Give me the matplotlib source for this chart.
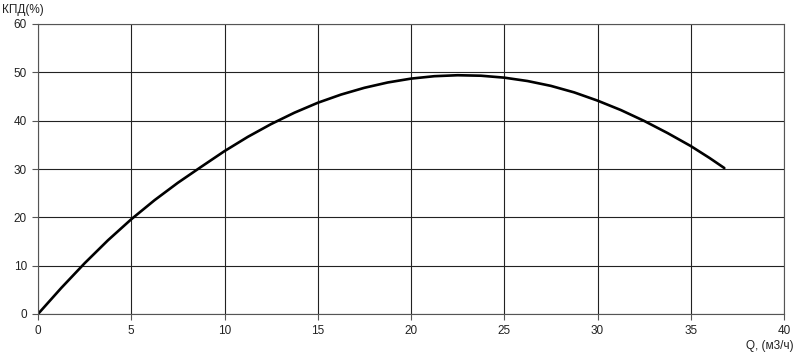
import matplotlib
matplotlib.use("Agg")
import matplotlib.pyplot as plt

plt.rcParams['font.family'] = ['Liberation Sans', 'DejaVu Sans']

q = [0, 1.25, 2.5, 3.75, 5, 6.25, 7.5, 8.75, 10, 11.25, 12.5, 13.75, 15, 16.25,
     17.5, 18.75, 20, 21.25, 22.5, 23.75, 25, 26.25, 27.5, 28.75, 30, 31.25,
     32.5, 33.75, 35, 36, 36.8]
eff = [0, 5.4, 10.5, 15.25, 19.6, 23.55, 27.15, 30.45, 33.7, 36.65, 39.3, 41.65, 43.7, 45.4,
       46.8, 47.9, 48.7, 49.2, 49.4, 49.3, 48.9, 48.2, 47.2, 45.85, 44.15, 42.2,
       39.95, 37.45, 34.75, 32.3, 30.2]

xticks = [0, 5, 10, 15, 20, 25, 30, 35, 40]
yticks = [0, 10, 20, 30, 40, 50, 60]
xlabel = "Q, (м3/ч)"
ylabel = "КПД(%)"

fig = plt.figure(figsize=(8, 3.58), dpi=100)
ax = fig.add_axes([38/800, 44/358, (784-38)/800, (314-24)/358])
ax.set_xlim(0, 40)
ax.set_ylim(0, 60)
ax.set_xticks(xticks)
ax.set_yticks(yticks)
ax.grid(True, color='#222222', linewidth=0.8)
ax.set_axisbelow(True)
for s in ax.spines.values():
    s.set_color('#555555')
    s.set_linewidth(0.8)
ax.tick_params(direction='out', length=4, width=0.8, color='#555555',
               labelsize=8.5, labelcolor='#222222', pad=4)
ax.plot(q, eff, color='black', linewidth=1.9, solid_capstyle='round',
        solid_joinstyle='round')

fig.text(2/800, 1 - 10/358, ylabel, fontsize=8.5, color='#222222', va='center', ha='left')
fig.text(794/800, 1 - 346/358, xlabel, fontsize=8.5, color='#222222', va='center', ha='right')

fig.savefig("out.png", dpi=100, facecolor='white')
